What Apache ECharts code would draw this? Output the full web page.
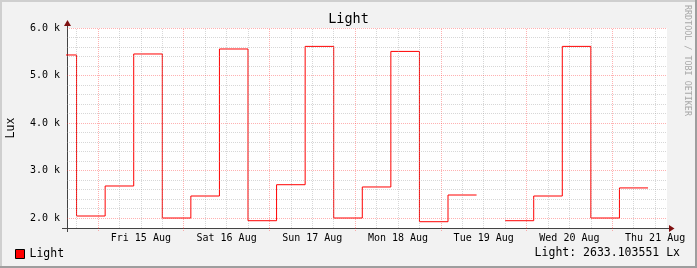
<!DOCTYPE html>
<html>
<head>
<meta charset="utf-8">
<script src="https://cdn.jsdelivr.net/npm/echarts@6/dist/echarts.min.js"></script>
<style>
  html, body { margin: 0; padding: 0; background: #f2f2f2; }
  #chart { width: 697px; height: 268px; }
</style>
</head>
<body>
<div id="chart"></div>
<script>
// ---- data ----
const chartTitle = 'Light';
const seriesName = 'Light';
const unitLabel = 'Lux';
const dayLabels = ['Fri 15 Aug', 'Sat 16 Aug', 'Sun 17 Aug', 'Mon 18 Aug', 'Tue 19 Aug', 'Wed 20 Aug', 'Thu 21 Aug'];
const dayLabelHours = [12, 36, 60, 84, 108, 132, 156];        // noon of each day, hours from Fri 15 Aug 00:00
const midnightHours = [0, 24, 48, 72, 96, 120, 144];
const sixHourGridHours = [-6, 6, 12, 18, 30, 36, 42, 54, 60, 66, 78, 84, 90, 102, 108, 114, 126, 132, 138, 150, 156];
const yTickValues = [2000, 3000, 4000, 5000, 6000];
const yMinorGrid = [2200, 2400, 2600, 2800, 3200, 3400, 3600, 3800, 4200, 4400, 4600, 4800, 5200, 5400, 5600, 5800];
// sample start times (hours from Fri 15 Aug 00:00); each sample covers 8 hours
const sampleStartHours = [-14, -6, 2, 10, 18, 26, 34, 42, 50, 58, 66, 74, 82, 90, 98, 106, 114, 122, 130, 138, 146];
const sampleHours = 8;
const luxValues = [5432, 2042, 2674, 5453, 2000, 2463, 5558, 1943, 2701, 5613, 2000, 2653, 5507, 1922, 2484, null, 1943, 2463, 5613, 2000, 2633.103551];
const lastValue = 2633.103551;
const viewStartHour = -8.68;
const viewHours = 168;

// ---- build ----
const lineData = [];
sampleStartHours.forEach((h, i) => {
  const v = luxValues[i];
  if (v === null) { lineData.push([h, null]); }
  else { lineData.push([h, v], [h + sampleHours, v]); }
});

const FONT = 'DejaVu Sans Mono';
const minorColor = 'rgba(150,150,150,0.38)';
const majorColor = 'rgba(255,40,40,0.36)';
const gridMarks = [];
sixHourGridHours.forEach(h => gridMarks.push({ xAxis: h, lineStyle: { color: minorColor, type: [1, 1], width: 1 } }));
midnightHours.forEach(h => gridMarks.push({ xAxis: h, lineStyle: { color: majorColor, type: [1, 1], width: 1 } }));
yMinorGrid.forEach(v => gridMarks.push({ yAxis: v, lineStyle: { color: minorColor, type: [1, 1], width: 1 } }));
yTickValues.forEach(v => gridMarks.push({ yAxis: v, lineStyle: { color: majorColor, type: [1, 1], width: 1 } }));

const chart = echarts.init(document.getElementById('chart'), null, { renderer: 'canvas' });
chart.setOption({
  animation: false,
  backgroundColor: '#f2f2f2',
  textStyle: { fontFamily: FONT },
  title: {
    text: chartTitle, left: 'center', top: 12.5, padding: 0,
    textStyle: { fontFamily: FONT, fontSize: 13.5, fontWeight: 'normal', color: '#000' }
  },
  legend: {
    data: [seriesName], left: 15, top: 248, padding: 0,
    icon: 'rect', itemWidth: 9, itemHeight: 9,
    itemStyle: { color: '#ff0000', borderColor: '#000', borderWidth: 1 },
    textStyle: { fontFamily: FONT, fontSize: 11.5, color: '#000' }
  },
  grid: {
    left: 67, top: 28, width: 600, height: 200,
    outerBoundsMode: 'none', containLabel: false,
    show: true, backgroundColor: '#ffffff', borderWidth: 0
  },
  xAxis: {
    type: 'value', min: viewStartHour, max: viewStartHour + viewHours,
    axisLine: { show: true, onZero: false, lineStyle: { color: '#444', width: 1 } },
    axisTick: { show: true, customValues: midnightHours, length: 4, lineStyle: { color: majorColor, type: [1, 1] } },
    splitLine: { show: false },
    axisLabel: {
      customValues: dayLabelHours, margin: 5, color: '#000',
      fontFamily: FONT, fontSize: 10,
      formatter: v => dayLabels[dayLabelHours.indexOf(v)] || ''
    }
  },
  yAxis: {
    type: 'value', min: 1789.5, max: 6000,
    name: unitLabel, nameLocation: 'middle', nameRotate: 90, nameGap: 50,
    nameTextStyle: { fontFamily: FONT, fontSize: 11.5, color: '#000' },
    axisLine: { show: true, onZero: false, lineStyle: { color: '#444', width: 1 } },
    axisTick: { show: false },
    splitLine: { show: false },
    axisLabel: {
      customValues: yTickValues, margin: 7, color: '#000',
      fontFamily: FONT, fontSize: 10,
      formatter: v => (v / 1000).toFixed(1) + ' k'
    }
  },
  series: [
    {
      type: 'line', name: '__grid', data: [], z: 1, silent: true,
      markLine: { silent: true, symbol: ['none', 'none'], label: { show: false }, animation: false, data: gridMarks }
    },
    {
      type: 'line', name: seriesName, data: lineData, z: 3,
      showSymbol: false, connectNulls: false, clip: true,
      lineStyle: { color: '#ff0000', width: 1 },
      itemStyle: { color: '#ff0000' }
    }
  ],
  graphic: [
    // frame shading
    { type: 'rect', shape: { x: 0, y: 0, width: 697, height: 2 }, style: { fill: '#cfcfcf' }, silent: true },
    { type: 'rect', shape: { x: 0, y: 0, width: 2, height: 268 }, style: { fill: '#cfcfcf' }, silent: true },
    { type: 'rect', shape: { x: 695, y: 0, width: 2, height: 268 }, style: { fill: '#9e9e9e' }, silent: true },
    { type: 'rect', shape: { x: 0, y: 266, width: 697, height: 2 }, style: { fill: '#9e9e9e' }, silent: true },
    // axis extensions and arrows
    { type: 'line', shape: { x1: 62, y1: 228.5, x2: 67, y2: 228.5 }, style: { stroke: '#444', lineWidth: 1 }, silent: true, z: 10 },
    { type: 'line', shape: { x1: 67.5, y1: 228, x2: 67.5, y2: 232 }, style: { stroke: '#444', lineWidth: 1 }, silent: true, z: 10 },
    { type: 'line', shape: { x1: 67.5, y1: 28, x2: 67.5, y2: 25 }, style: { stroke: '#444', lineWidth: 1 }, silent: true, z: 10 },
    { type: 'line', shape: { x1: 667, y1: 228.5, x2: 670, y2: 228.5 }, style: { stroke: '#444', lineWidth: 1 }, silent: true, z: 10 },
    { type: 'polygon', shape: { points: [[64, 26], [71, 26], [67.5, 20]] }, style: { fill: '#7f1010' }, silent: true, z: 10 },
    { type: 'polygon', shape: { points: [[669, 225], [669, 232], [674.5, 228.5]] }, style: { fill: '#7f1010' }, silent: true, z: 10 },
    // current value
    { type: 'text', right: 17, top: 247, silent: true,
      style: { text: seriesName + ': ' + lastValue.toFixed(6) + ' Lx', font: '11.5px "DejaVu Sans Mono"', fill: '#000' } },
    // watermark
    { type: 'text', x: 691, y: 5, rotation: -Math.PI / 2, silent: true,
      style: { text: 'RRDTOOL / TOBI OETIKER', font: '8.4px "DejaVu Sans Mono"', fill: '#a8a8a8' } }
  ]
});
</script>
</body>
</html>
